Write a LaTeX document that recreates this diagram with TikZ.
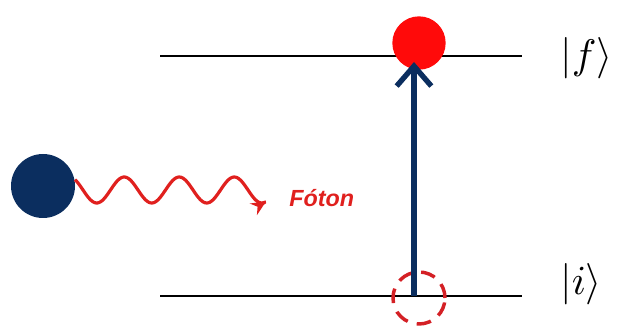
\documentclass[tikz,border=0pt]{standalone}
\usepackage{fontspec}
\usepackage{graphicx}
\newfontfamily\labelfont{Liberation Sans}
\usetikzlibrary{arrows.meta}
\definecolor{navy}{HTML}{0B2E5F}
\definecolor{wavered}{HTML}{E0201E}
\definecolor{dotred}{HTML}{FF0A0A}
\definecolor{dashred}{HTML}{D42025}
\tikzset{
  level/.style={line width=1.4pt, black},
  ketlabel/.style={anchor=west, inner sep=0pt},
}
\newcommand{\bigket}[1]{\scalebox{3.1}{$|#1\rangle$}}
\begin{document}
\begin{tikzpicture}[x=0.75pt,y=-0.75pt]
\useasboundingbox (0,0) rectangle (628,327);
% levels
\coordinate (fL) at (160,56);
\coordinate (fR) at (522,56);
\coordinate (iL) at (160,296);
\coordinate (iR) at (522,296);
\draw[level] (fL) -- (fR);
\draw[level] (iL) -- (iR);
% labels
\node[ketlabel] (kf) at (560,58) {\bigket{f}};
\node[ketlabel] (ki) at (560,284) {\bigket{i}};
% dashed initial circle
\node[circle, draw=dashred, dash pattern=on 11pt off 7pt, line width=2.6pt, minimum size=39pt, inner sep=0pt] (init) at (419,298) {};
% excited electron
\node[circle, fill=dotred, minimum size=40pt, inner sep=0pt] (fin) at (419,43) {};
% transition arrow
\coordinate (aS) at (414,296);
\coordinate (aE) at (414,62);
\draw[navy, line width=4pt, -{Straight Barb[length=15pt,width=26pt,line width=4pt]}] (aS) -- (aE);
% incoming electron
\node[circle, fill=navy, minimum size=48pt, inner sep=0pt] (elec) at (43,186) {};
% photon wave
\draw[wavered, line width=2.4pt, -{Stealth[length=11pt,width=10pt]}]
  plot[domain=75:266, samples=120, smooth] (\x,{190+13*sin(6.545*(\x-83))});
\node[anchor=west, inner sep=0pt, text=wavered, font=\labelfont\bfseries\itshape\fontsize{17.5}{20}\selectfont] (foton) at (289,198) {Fóton};
\end{tikzpicture}
\end{document}
